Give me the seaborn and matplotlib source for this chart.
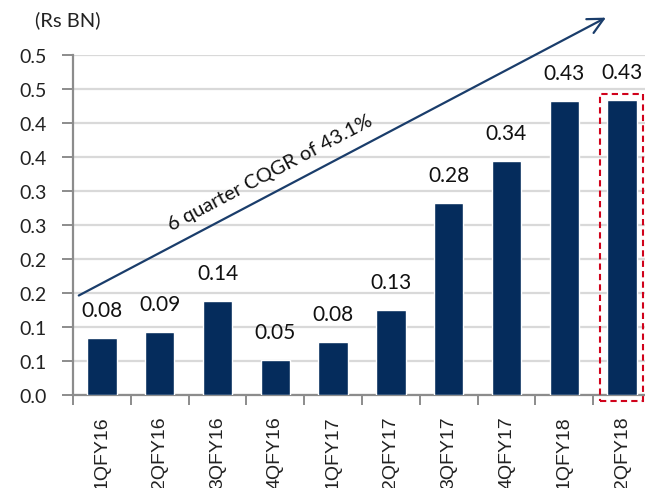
import matplotlib
matplotlib.use("Agg")
import matplotlib.pyplot as plt
import seaborn as sns
import numpy as np
import pandas as pd
from matplotlib.patches import Rectangle

quarters = ["1QFY16", "2QFY16", "3QFY16", "4QFY16", "1QFY17", "2QFY17",
            "3QFY17", "4QFY17", "1QFY18", "2QFY18"]
values = [0.083, 0.092, 0.138, 0.051, 0.077, 0.124, 0.282, 0.344, 0.432, 0.434]
value_labels = ["0.08", "0.09", "0.14", "0.05", "0.08", "0.13", "0.28", "0.34", "0.43", "0.43"]
ytick_values = [0.0, 0.05, 0.10, 0.15, 0.20, 0.25, 0.30, 0.35, 0.40, 0.45, 0.50]
ytick_labels = ["0.0", "0.1", "0.1", "0.2", "0.2", "0.3", "0.3", "0.4", "0.4", "0.5", "0.5"]
unit_label = "(Rs BN)"
cagr_text = "6 quarter CQGR of 43.1%"

sns.set_theme(style="white")
plt.rcParams['font.family'] = ['Lato', 'DejaVu Sans']

BAR = "#052c5c"
NAVY = "#1a3d6b"

df = pd.DataFrame({"quarter": quarters, "value": values})

fig = plt.figure(figsize=(6.45, 4.89), dpi=100)
ax = fig.add_axes([73/645, 1-395.7/489, 578/645, 339.7/489])

sns.barplot(data=df, x="quarter", y="value", color=BAR, width=0.51,
            saturation=1, ax=ax, zorder=3)

ax.set_ylim(0, 0.5)
ax.set_xlim(-0.5, len(quarters)-0.5)
ax.set_yticks(ytick_values)
ax.set_yticklabels(ytick_labels, fontsize=14, color="#222222")
ax.yaxis.grid(True, color="#d9d9d9", linewidth=1.6, zorder=0)
ax.set_axisbelow(True)
ax.set_xlabel("")
ax.set_ylabel("")

for s in ["top", "right"]:
    ax.spines[s].set_visible(False)
for s in ["left", "bottom"]:
    ax.spines[s].set_color("#8c8c8c")
    ax.spines[s].set_linewidth(1.6)

ax.tick_params(axis="y", length=8, width=1.4, color="#8c8c8c", pad=11, left=True)
ax.set_xticks(range(len(quarters)))
ax.set_xticklabels(quarters, rotation=90, fontsize=14, family=["Liberation Sans"], color="#222222")
ax.tick_params(axis="x", which="major", length=0, pad=15)
ax.set_xticks(np.arange(-0.5, len(quarters)-0.4, 1), minor=True)
ax.tick_params(axis="x", which="minor", length=7, width=1.4, color="#8c8c8c", bottom=True)

for i, (v, lab) in enumerate(zip(values, value_labels)):
    ax.annotate(lab, xy=(i, v), xytext=(0, 13), textcoords="offset points",
                ha="center", va="bottom", fontsize=15, color="#111111")

# red dashed highlight box around last bar
n = len(quarters)
rect = Rectangle((n-1-0.38, -0.009), 0.75, values[-1]+0.018, fill=False,
                 edgecolor="#d0021b", linestyle=(0, (3, 2)), linewidth=1.5,
                 clip_on=False, zorder=5)
ax.add_patch(rect)

# growth arrow
ax.annotate("", xy=(8.72, 0.555), xytext=(-0.40, 0.146),
            xycoords="data", textcoords="data", annotation_clip=False,
            arrowprops=dict(arrowstyle="->", color=NAVY, lw=1.6,
                            mutation_scale=28, shrinkA=0, shrinkB=0))
ax.text(2.91, 0.328, cagr_text, rotation=27.8, rotation_mode="anchor",
        ha="center", va="center", fontsize=14.5, color="#111111",
        transform=ax.transData)

fig.text(35/645, 1-20/489, unit_label, ha="left", va="center", fontsize=14.5, color="#222222")

fig.savefig("out.png", dpi=100)
